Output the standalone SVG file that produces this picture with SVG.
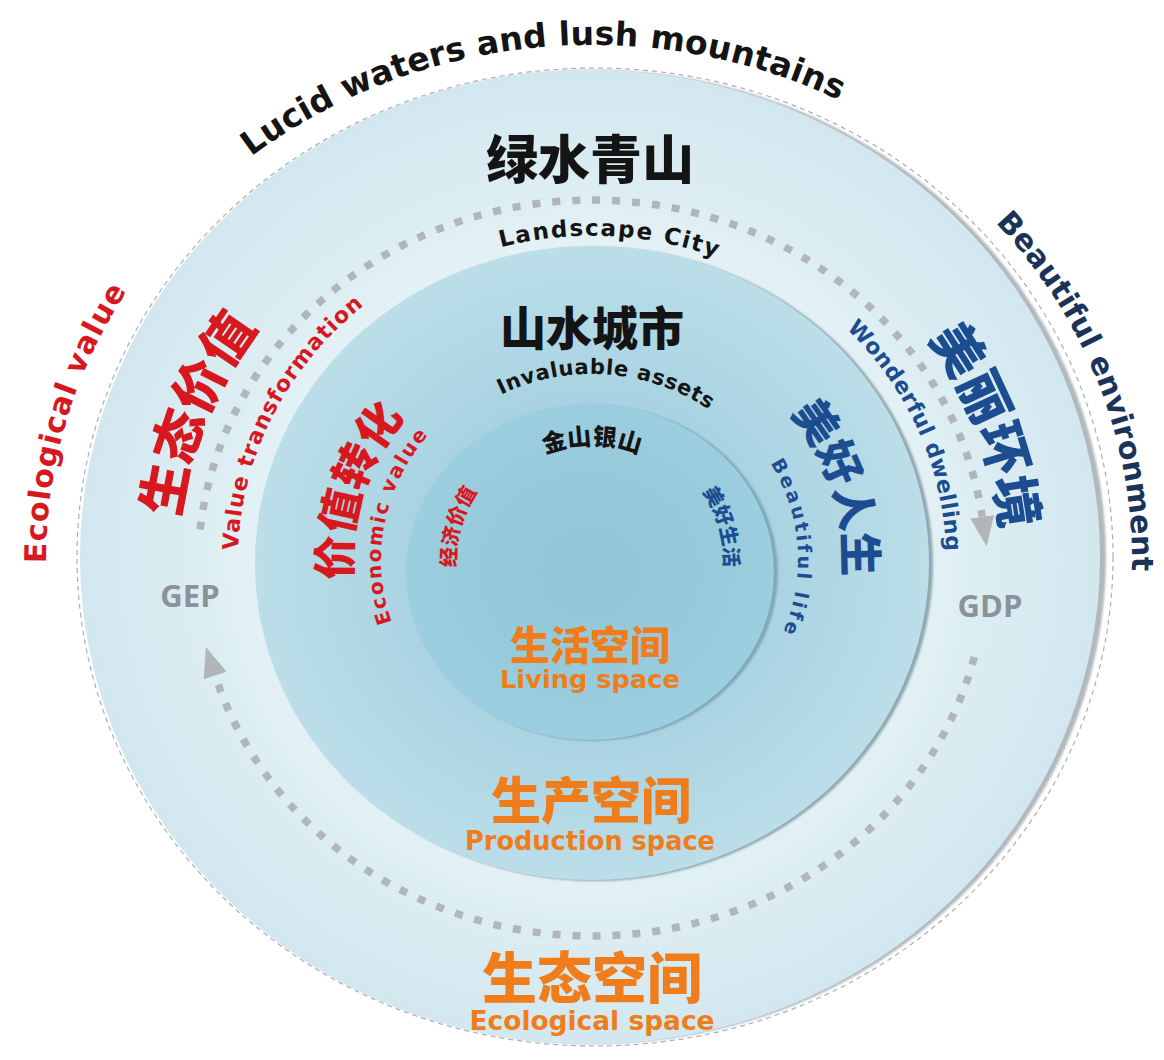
<svg xmlns="http://www.w3.org/2000/svg" width="1164" height="1060" viewBox="0 0 1164 1060">
<defs>
<radialGradient id="gOuter" cx="0.5" cy="0.5" r="0.5">
<stop offset="0.6" stop-color="#e6f3f7"/>
<stop offset="0.75" stop-color="#ddeef3"/>
<stop offset="1" stop-color="#d2e7ef"/>
</radialGradient>
<radialGradient id="gMid" cx="0.5" cy="0.5" r="0.5">
<stop offset="0.5" stop-color="#a8d2e1"/>
<stop offset="1" stop-color="#bbdee9"/>
</radialGradient>
<radialGradient id="gIn" cx="0.5" cy="0.5" r="0.5">
<stop offset="0" stop-color="#90c6d8"/>
<stop offset="1" stop-color="#9bcede"/>
</radialGradient>
<filter id="soft" x="-5%" y="-5%" width="110%" height="110%"><feGaussianBlur stdDeviation="1.3"/></filter>
<marker id="arrow" markerUnits="userSpaceOnUse" viewBox="0 -13 30 26" markerWidth="30" markerHeight="26" refX="0" refY="0" orient="auto">
<path d="M0,-12 L30,0 L0,12 Z" fill="#b3b6b9"/>
</marker>
<path id="pLucid" d="M91.4,350.5 A548,515.1 0 0 1 534.7,47.7 A548,515.1 0 0 1 1035.3,257.2"/>
<path id="pBeaut" d="M690.4,60.9 A540,507.6 0 0 1 1101,390.6 A540,507.6 0 0 1 1002.6,889.6"/>
<path id="pEcoV" d="M205.9,922.9 A546,513.2 0 0 1 64.6,427.2 A546,513.2 0 0 1 450.7,64.3"/>
<path id="pLand" d="M302.6,383.4 A345,324.3 0 0 1 610,236.2 A345,324.3 0 0 1 899.4,412.8"/>
<path id="pInv" d="M428.8,454.6 A198,186.1 0 0 1 607.5,374.5 A198,186.1 0 0 1 770.7,479.9"/>
<path id="pJin" d="M486.3,502.7 A122,114.7 0 0 1 592,445.3 A122,114.7 0 0 1 697.7,502.7"/>
<path id="pSTJZ" d="M271.8,808.1 A415,390.1 0 0 1 203.3,423.4 A415,390.1 0 0 1 523.5,175.2"/>
<path id="pMLHJ" d="M670.2,181.7 A410,385.4 0 0 1 979.7,434.5 A410,385.4 0 0 1 901.4,812.9"/>
<path id="pVT" d="M302,750.9 A354,332.8 0 0 1 271.2,419.4 A354,332.8 0 0 1 561.1,228.5"/>
<path id="pWD" d="M641.3,230.4 A354,332.8 0 0 1 920.2,435.3 A354,332.8 0 0 1 871,764.9"/>
<path id="pJZZH" d="M417.2,715.9 A241,226.5 0 0 1 360.9,495.7 A241,226.5 0 0 1 535.8,339.8"/>
<path id="pMHRS" d="M650.8,329.6 A252,236.9 0 0 1 833.6,492.7 A252,236.9 0 0 1 774.8,723.1"/>
<path id="pEcon" d="M456.4,711.9 A211,198.3 0 0 1 384.2,525.6 A211,198.3 0 0 1 519.8,373.7"/>
<path id="pBL" d="M682.3,386 A206,193.6 0 0 1 797.5,546.5 A206,193.6 0 0 1 707.2,720.5"/>
<path id="pJJJZ" d="M497.5,651.9 A136,127.8 0 0 1 460,529.1 A136,127.8 0 0 1 554.5,437.1"/>
<path id="pMHSH" d="M627.3,440.4 A132,124.1 0 0 1 719.8,528.9 A132,124.1 0 0 1 684.5,648.5"/>
</defs>
<style>
.cjk { font-family: "Noto Sans CJK SC", "Noto Sans CJK JP", sans-serif; font-weight: 900; }
.lat { font-family: "DejaVu Sans", "Open Sans", sans-serif; font-weight: 700; }
.num { font-family: "Open Sans", "DejaVu Sans", sans-serif; font-weight: 700; }
.red { fill: #d8181f; }
.blue { fill: #1d4d91; }
.navy { fill: #1b3259; }
.blk { fill: #141414; }
.org { fill: #ef7d1b; }
.gray { fill: #8b9399; }
.dots { fill: none; stroke: #b1b6bb; stroke-width: 7.5; stroke-dasharray: 8 12; }
</style>

<g id="ring-outer">
<ellipse cx="594" cy="557" rx="512" ry="487" fill="#b2b8bc" filter="url(#soft)"/>
<ellipse cx="590" cy="557" rx="510" ry="487" fill="url(#gOuter)"/>
<ellipse cx="595" cy="557" rx="518" ry="489" fill="none" stroke="#aab0b4" stroke-width="1.2" stroke-dasharray="5 4"/>
</g>

<g id="ring-middle">
<ellipse cx="595" cy="564" rx="338" ry="317" fill="#93a7b0" filter="url(#soft)"/>
<ellipse cx="592" cy="563" rx="337" ry="317" fill="url(#gMid)"/>
</g>

<g id="ring-inner">
<ellipse cx="593" cy="573" rx="185" ry="168" fill="#7ea8b7" filter="url(#soft)"/>
<ellipse cx="590" cy="572" rx="184" ry="168" fill="url(#gIn)"/>
</g>

<g id="connectors">
<path class="dots" d="M200.2,529.5 A394,368 0 0 1 982.2,516.8" marker-end="url(#arrow)"/>
<path class="dots" d="M974.3,657 A394,368 0 0 1 215.2,675.6" marker-end="url(#arrow)"/>
</g>

<g id="outer-labels">
<text class="lat blk" font-size="33" text-anchor="middle"><textPath href="#pLucid" startOffset="50%" textLength="620" lengthAdjust="spacing">Lucid waters and lush mountains</textPath></text>
<text class="lat navy" font-size="30" text-anchor="middle"><textPath href="#pBeaut" startOffset="50%" textLength="384" lengthAdjust="spacing">Beautiful environment</textPath></text>
<text class="lat red" font-size="30" text-anchor="middle"><textPath href="#pEcoV" startOffset="50%" textLength="288" lengthAdjust="spacing">Ecological value</textPath></text>
</g>

<g id="node-ecological">
<text class="cjk blk" x="590" y="179" font-size="52" text-anchor="middle">绿水青山</text>
<text class="lat blk" font-size="23" text-anchor="middle"><textPath href="#pLand" startOffset="50%" textLength="219" lengthAdjust="spacing">Landscape City</textPath></text>
<text class="cjk red" font-size="52" text-anchor="middle"><textPath href="#pSTJZ" startOffset="50%">生态价值</textPath></text>
<text class="lat red" font-size="22" text-anchor="middle"><textPath href="#pVT" startOffset="50%" textLength="284" lengthAdjust="spacing">Value transformation</textPath></text>
<text class="cjk blue" font-size="52" text-anchor="middle"><textPath href="#pMLHJ" startOffset="50%">美丽环境</textPath></text>
<text class="lat blue" font-size="22" text-anchor="middle"><textPath href="#pWD" startOffset="50%" textLength="250" lengthAdjust="spacing">Wonderful dwelling</textPath></text>
<text class="num gray" x="190" y="607" font-size="31" text-anchor="middle">GEP</text>
<text class="num gray" x="990" y="617" font-size="31" text-anchor="middle">GDP</text>
<text class="cjk org" x="592" y="998" font-size="55" text-anchor="middle">生态空间</text>
<text class="lat org" x="592" y="1030" font-size="26" text-anchor="middle" textLength="245" lengthAdjust="spacingAndGlyphs">Ecological space</text>
</g>

<g id="node-production">
<text class="cjk blk" x="592" y="345" font-size="46" text-anchor="middle">山水城市</text>
<text class="lat blk" font-size="21" text-anchor="middle"><textPath href="#pInv" startOffset="50%" textLength="218" lengthAdjust="spacing">Invaluable assets</textPath></text>
<text class="cjk red" font-size="44" text-anchor="middle"><textPath href="#pJZZH" startOffset="50%">价值转化</textPath></text>
<text class="lat red" font-size="20" text-anchor="middle"><textPath href="#pEcon" startOffset="50%" textLength="200" lengthAdjust="spacing">Economic value</textPath></text>
<text class="cjk blue" font-size="44" text-anchor="middle"><textPath href="#pMHRS" startOffset="50%">美好人生</textPath></text>
<text class="lat blue" font-size="19" text-anchor="middle"><textPath href="#pBL" startOffset="50%" textLength="176" lengthAdjust="spacing">Beautiful life</textPath></text>
<text class="cjk org" x="591" y="819" font-size="50" text-anchor="middle">生产空间</text>
<text class="lat org" x="590" y="850" font-size="26" text-anchor="middle" textLength="250" lengthAdjust="spacingAndGlyphs">Production space</text>
</g>

<g id="node-living">
<text class="cjk blk" font-size="24" text-anchor="middle"><textPath href="#pJin" startOffset="50%">金山银山</textPath></text>
<text class="cjk red" font-size="20" text-anchor="middle"><textPath href="#pJJJZ" startOffset="50%">经济价值</textPath></text>
<text class="cjk blue" font-size="20" text-anchor="middle"><textPath href="#pMHSH" startOffset="50%">美好生活</textPath></text>
<text class="cjk org" x="590" y="660" font-size="40" text-anchor="middle">生活空间</text>
<text class="lat org" x="590" y="688" font-size="24" text-anchor="middle" textLength="180" lengthAdjust="spacingAndGlyphs">Living space</text>
</g>
</svg>
